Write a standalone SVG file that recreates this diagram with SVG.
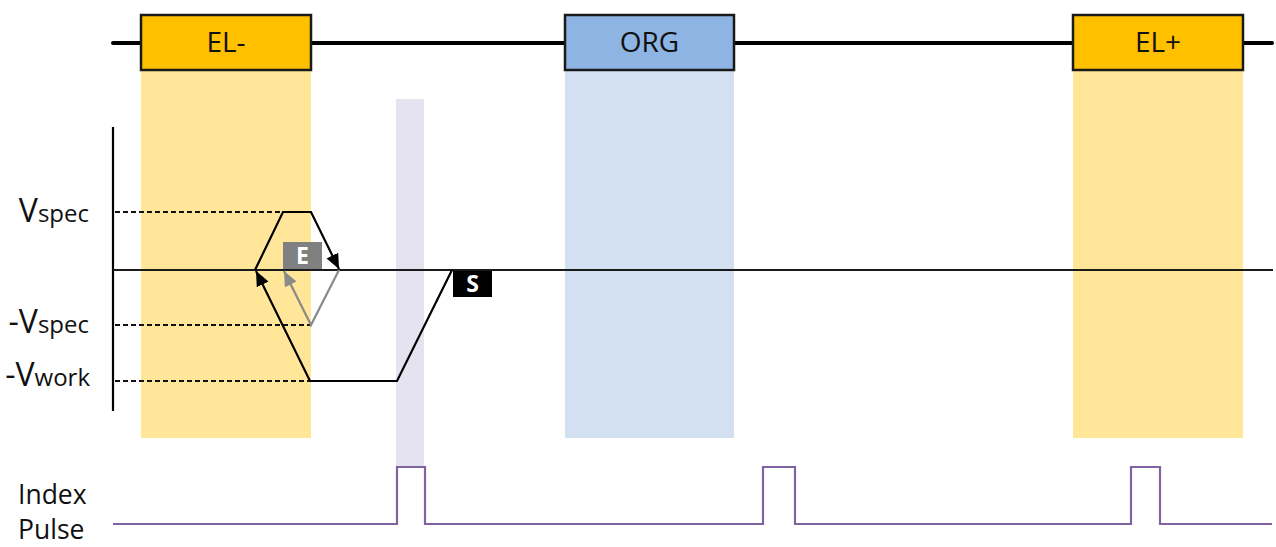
<svg xmlns="http://www.w3.org/2000/svg" width="1276" height="547" viewBox="0 0 1276 547">
<style>
.box{stroke:#1a1a1a;stroke-width:2.5}
.boxt{font-family:"Open Sans","Noto Sans",sans-serif;font-size:28px;fill:#111;text-anchor:middle}
.lbl{font-family:"Open Sans","Noto Sans",sans-serif;fill:#111}
.dash{stroke:#111;stroke-width:2;stroke-dasharray:5 3;fill:none}
.blk{stroke:#000;stroke-width:2.2;fill:none}
.gry{stroke:#8a8a8a;stroke-width:2.2;fill:none}
.pulse{stroke:#8064a2;stroke-width:2.2;fill:none}
.tag{font-family:"Open Sans","Noto Sans",sans-serif;font-size:23px;font-weight:bold;fill:#fff;text-anchor:middle}
</style>
<defs>
<marker id="ab" markerUnits="userSpaceOnUse" markerWidth="16" markerHeight="14" refX="15" refY="6.5" orient="auto"><path d="M0,0 L15,6.5 L0,13 z" fill="#000"/></marker>
<marker id="ag" markerUnits="userSpaceOnUse" markerWidth="16" markerHeight="14" refX="15" refY="6.5" orient="auto"><path d="M0,0 L15,6.5 L0,13 z" fill="#8a8a8a"/></marker>
</defs>
<rect width="1276" height="547" fill="#fff"/>
<g id="shading">
<rect x="141" y="70" width="170" height="368" fill="#ffe699"/>
<rect x="565" y="70" width="169" height="368" fill="#d2e0f2"/>
<rect x="1073" y="70" width="170" height="368" fill="#ffe699"/>
<rect x="396" y="99" width="28" height="368" fill="#e6e3f0"/>
</g>
<g id="connectors">
<line x1="113" y1="43" x2="1272" y2="43" stroke="#000" stroke-width="4" stroke-linecap="round"/>
<line x1="113" y1="127" x2="113" y2="411" stroke="#000" stroke-width="2.2"/>
<line x1="113" y1="270" x2="1273" y2="270" stroke="#1a1a1a" stroke-width="2.2"/>
<line class="dash" x1="115" y1="212" x2="282" y2="212"/>
<line class="dash" x1="115" y1="325" x2="310" y2="325"/>
<line class="dash" x1="115" y1="381" x2="310" y2="381"/>
<polyline class="blk" points="255,270 283,212 311,212 339,269" marker-end="url(#ab)"/>
<polyline class="blk" points="452,270 397,381 310,381 256,271" marker-end="url(#ab)"/>
<polyline class="gry" points="339,270 311,325 284,271" marker-end="url(#ag)"/>
<polyline class="pulse" points="113,524 397,524 397,467 425,467 425,524 763,524 763,467 795,467 795,524 1131,524 1131,467 1160,467 1160,524 1272,524"/>
</g>
<g id="node-el-minus">
<rect class="box" x="141" y="15" width="170" height="55" fill="#ffc000"/>
<text class="boxt" x="226" y="52">EL-</text>
</g>
<g id="node-org">
<rect class="box" x="565" y="15" width="169" height="55" fill="#8eb4e3"/>
<text class="boxt" x="649.5" y="52">ORG</text>
</g>
<g id="node-el-plus">
<rect class="box" x="1073" y="15" width="170" height="55" fill="#ffc000"/>
<text class="boxt" x="1158" y="52">EL+</text>
</g>
<g id="node-e">
<rect x="283" y="242" width="39" height="27" fill="#808080"/>
<text class="tag" x="302.5" y="263.5">E</text>
</g>
<g id="node-s">
<rect x="453" y="271" width="39" height="26" fill="#000"/>
<text class="tag" x="472.5" y="292">S</text>
</g>
<g id="labels">
<text class="lbl" x="89" y="222" text-anchor="end"><tspan font-size="32">V</tspan><tspan font-size="24">spec</tspan></text>
<text class="lbl" x="89" y="333" text-anchor="end"><tspan font-size="32">-V</tspan><tspan font-size="24">spec</tspan></text>
<text class="lbl" x="90" y="386" text-anchor="end"><tspan font-size="32">-V</tspan><tspan font-size="24">work</tspan></text>
<text class="lbl" x="18" y="504" font-size="26.5">Index</text>
<text class="lbl" x="18" y="539" font-size="26.5">Pulse</text>
</g>
</svg>
